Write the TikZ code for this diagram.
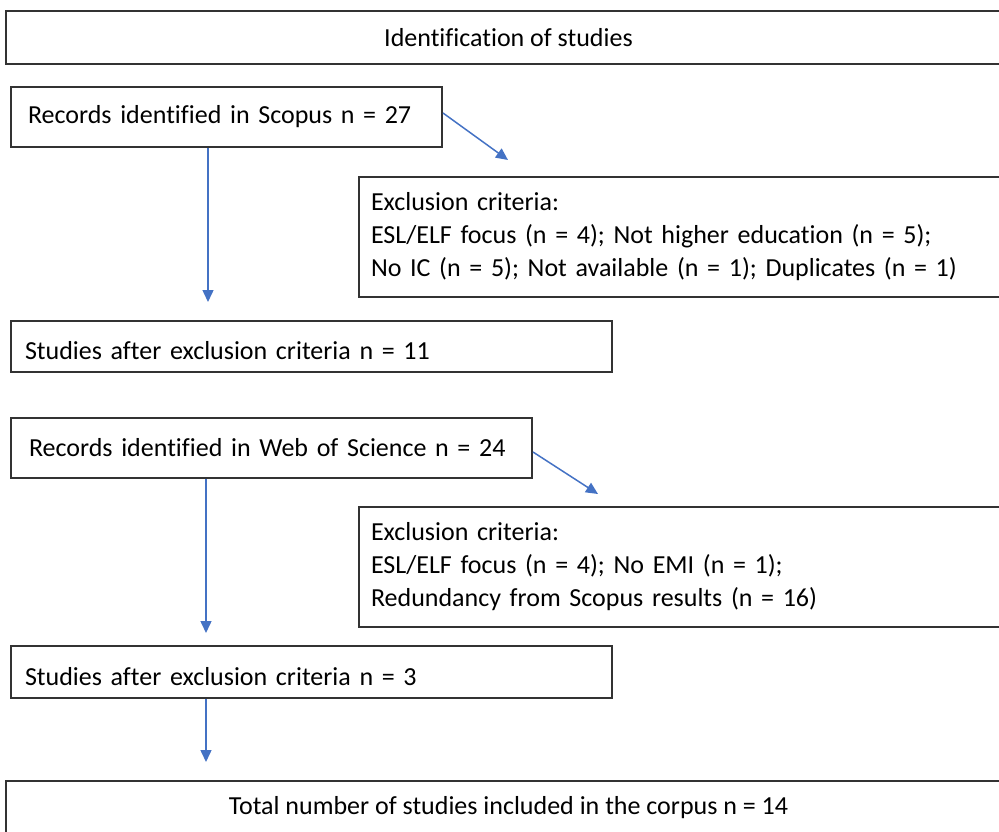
\documentclass[tikz,border=0pt]{standalone}
\usepackage{fontspec}
\setmainfont{Carlito}[Ligatures=NoCommon]
\usetikzlibrary{arrows.meta}
\definecolor{arrowblue}{HTML}{4472C4}
\definecolor{boxline}{HTML}{333333}
\begin{document}
\begin{tikzpicture}[x=1pt,y=-1pt,
  box/.style={draw=boxline, line width=2pt, rectangle, inner ysep=0pt, anchor=north west,
    font=\fontsize{26}{33}\selectfont, align=left},
  cbox/.style={draw=boxline, line width=2pt, rectangle, inner sep=0pt, anchor=north west,
    font=\fontsize{26}{33}\selectfont, align=center},
  arr/.style={draw=arrowblue, line width=1.5pt, -{Triangle[length=12pt,width=11pt]}}]
\useasboundingbox (0,0) rectangle (999,832);
\node[cbox, minimum width=1005pt, minimum height=53pt] (title) at (5,10) {Identification of studies};
\node[box, inner xsep=17pt, text width=397pt, minimum height=60pt] (scopus) at (10,86) {Records identified in Scopus n = 27};
\node[box, inner xsep=12pt, text width=628pt, minimum height=120pt] (exc1) at (358,176)
  {Exclusion criteria:\\ESL/ELF focus (n = 4); Not higher education (n = 5);\\No IC (n = 5); Not available (n = 1); Duplicates (n = 1)};
\node[box, inner xsep=14pt, text width=573pt, minimum height=51pt, text height=27pt] (after1) at (10,320) {Studies after exclusion criteria n = 11};
\node[box, inner xsep=18pt, text width=485pt, minimum height=60pt] (wos) at (10,417) {Records identified in Web of Science n = 24};
\node[box, inner xsep=12pt, text width=628pt, minimum height=120pt] (exc2) at (358,506)
  {Exclusion criteria:\\ESL/ELF focus (n = 4); No EMI (n = 1);\\Redundancy from Scopus results (n = 16)};
\node[box, inner xsep=14pt, text width=573pt, minimum height=52pt, text height=28pt] (after2) at (10,645) {Studies after exclusion criteria n = 3};
\node[cbox, minimum width=1005pt, minimum height=54pt] (total) at (5,780) {Total number of studies included in the corpus n = 14};
\coordinate (e1) at (508,160);
\coordinate (v1) at (208,302);
\coordinate (e2) at (598,494);
\coordinate (v2) at (206,633);
\coordinate (v3) at (206,762);
\draw[arr] ([yshift=4pt]scopus.east) -- (e1);
\draw[arr] (scopus.south -| v1) -- (v1);
\draw[arr] ([yshift=-4pt]wos.east) -- (e2);
\draw[arr] (wos.south -| v2) -- (v2);
\draw[arr] (after2.south -| v3) -- (v3);
\end{tikzpicture}
\end{document}
